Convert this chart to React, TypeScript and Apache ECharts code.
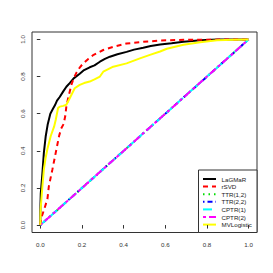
import React, { useEffect, useRef } from "react";
import * as echarts from "echarts";

const seriesNames = ["LaGMaR", "rSVD", "TTR(1,2)", "TTR(2,2)", "CPTR(1)", "CPTR(2)", "MVLogistic"];
const seriesColors = ["#000000", "#ff0000", "#00dd00", "#0000ff", "#00ffff", "#ff00ff", "#ffff00"];
const seriesDash: (number[] | "solid")[] = ["solid", [5, 4], [1.5, 4], [1.5, 3, 5, 3], [9, 4], [3, 3, 8, 3], "solid"];

const tickValues = [0, 0.2, 0.4, 0.6, 0.8, 1.0];

const lagmar: number[][] = [
  [0, 0], [0, 0.08], [0.002, 0.17], [0.01, 0.28], [0.017, 0.39], [0.026, 0.48], [0.035, 0.54],
  [0.048, 0.6], [0.06, 0.625], [0.07, 0.645], [0.08, 0.67], [0.093, 0.69], [0.11, 0.72],
  [0.125, 0.745], [0.141, 0.765], [0.16, 0.79], [0.189, 0.815], [0.21, 0.835], [0.237, 0.85],
  [0.26, 0.86], [0.286, 0.88], [0.31, 0.895], [0.334, 0.907], [0.37, 0.92], [0.414, 0.933],
  [0.45, 0.945], [0.494, 0.955], [0.53, 0.965], [0.575, 0.973], [0.63, 0.98], [0.687, 0.988],
  [0.77, 0.995], [0.85, 1.0], [1, 1],
];
const rsvd: number[][] = [
  [0, 0], [0.005, 0.04], [0.017, 0.08], [0.034, 0.14], [0.041, 0.21], [0.058, 0.3], [0.074, 0.39],
  [0.09, 0.48], [0.1, 0.52], [0.112, 0.545], [0.12, 0.59], [0.125, 0.64], [0.137, 0.7],
  [0.149, 0.755], [0.16, 0.79], [0.173, 0.82], [0.19, 0.85], [0.205, 0.87], [0.23, 0.895],
  [0.253, 0.915], [0.28, 0.93], [0.302, 0.943], [0.35, 0.96], [0.414, 0.978], [0.494, 0.987],
  [0.575, 0.994], [0.7, 0.998], [1, 1],
];
const ttr12: number[][] = [[0, 0], [1, 1]];
const ttr22: number[][] = [[0, 0], [1, 1]];
const cptr1: number[][] = [[0, 0], [1, 1]];
const cptr2: number[][] = [[0, 0], [1, 1]];
const mvlogistic: number[][] = [
  [0, 0], [0.001, 0.08], [0.005, 0.14], [0.01, 0.21], [0.017, 0.3], [0.025, 0.36], [0.034, 0.41],
  [0.05, 0.48], [0.066, 0.53], [0.074, 0.567], [0.085, 0.63], [0.093, 0.638], [0.11, 0.642],
  [0.125, 0.648], [0.141, 0.683], [0.165, 0.737], [0.189, 0.755], [0.21, 0.765], [0.237, 0.773],
  [0.26, 0.785], [0.286, 0.8], [0.302, 0.826], [0.35, 0.853], [0.414, 0.871], [0.478, 0.898],
  [0.526, 0.917], [0.575, 0.935], [0.607, 0.95], [0.687, 0.971], [0.767, 0.985], [0.848, 0.995],
  [0.93, 0.998], [1, 1],
];
const allData = [lagmar, rsvd, ttr12, ttr22, cptr1, cptr2, mvlogistic];

const FONT = "Arial";
const FS = 6.2;

export default function App() {
  const ref = useRef<HTMLDivElement>(null);
  useEffect(() => {
    if (!ref.current) return;
    const chart = echarts.init(ref.current, null, { renderer: "svg" });

    const lgLeft = 198.5, lgTop = 170, lgRight = 257, lgBottom = 232.5;
    const rowStart = 179, rowStep = 7.6;
    const legendChildren: any[] = [
      {
        type: "rect",
        shape: { x: lgLeft, y: lgTop, width: lgRight - lgLeft, height: lgBottom - lgTop },
        style: { fill: "#fff", stroke: "#333", lineWidth: 1 },
      },
    ];
    seriesNames.forEach((name, i) => {
      const y = rowStart + i * rowStep;
      const dash = seriesDash[i];
      legendChildren.push({
        type: "line",
        shape: { x1: 203, y1: y, x2: 216, y2: y },
        style: { stroke: seriesColors[i], lineWidth: 2, lineDash: dash === "solid" ? null : dash },
      });
      legendChildren.push({
        type: "text",
        style: {
          text: name, x: 221.5, y, fill: "#222", fontSize: FS, fontFamily: FONT,
          verticalAlign: "middle", align: "left",
        },
      });
    });

    const axisCommon = {
      min: -0.04,
      max: 1.04,
      splitLine: { show: false },
      axisLine: { show: false },
    };

    chart.setOption({
      animation: false,
      backgroundColor: "#fff",
      grid: { left: 32, right: 16, top: 32, bottom: 40.5, show: true, borderColor: "#333", borderWidth: 1, backgroundColor: "transparent" },
      xAxis: {
        type: "value",
        ...axisCommon,
        axisTick: { show: true, length: 3.5, lineStyle: { color: "#333" }, customValues: tickValues },
        axisLabel: {
          customValues: tickValues, formatter: (v: number) => v.toFixed(1),
          fontSize: FS, fontFamily: FONT, color: "#333", margin: 9,
        },
      },
      yAxis: {
        type: "value",
        ...axisCommon,
        axisTick: { show: true, length: 3.5, lineStyle: { color: "#333" }, customValues: tickValues },
        axisLabel: {
          customValues: tickValues, formatter: (v: number) => v.toFixed(1), rotate: 90,
          fontSize: FS, fontFamily: FONT, color: "#333", margin: 7,
        },
      },
      series: seriesNames.map((name, i) => ({
        name,
        type: "line",
        data: allData[i],
        showSymbol: false,
        symbol: "none",
        lineStyle: { color: seriesColors[i], width: 2, type: seriesDash[i] },
        z: 2 + i,
      })),
      graphic: [{ type: "group", z: 100, children: legendChildren }],
    });
    return () => chart.dispose();
  }, []);
  return <div ref={ref} style={{ width: 273, height: 273, position: "absolute", left: 0, top: 0 }} />;
}
